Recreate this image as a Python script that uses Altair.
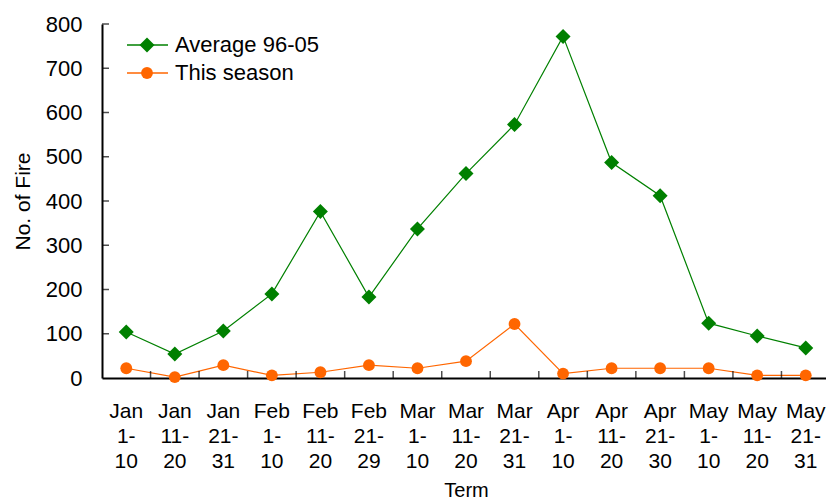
import altair as alt
import pandas as pd

terms = ["Jan|1-|10", "Jan|11-|20", "Jan|21-|31", "Feb|1-|10", "Feb|11-|20",
         "Feb|21-|29", "Mar|1-|10", "Mar|11-|20", "Mar|21-|31", "Apr|1-|10",
         "Apr|11-|20", "Apr|21-|30", "May|1-|10", "May|11-|20", "May|21-|31"]
average = [104, 54, 106, 190, 376, 183, 337, 462, 573, 772, 487, 412, 124, 95, 68]
this_season = [22, 2, 29, 6, 13, 29, 22, 38, 122, 10, 22, 22, 22, 6, 6]
series = ["Average 96-05", "This season"]
colors = ["#008000", "#ff6600"]
shapes = ["diamond", "circle"]
sizes = [225, 140]
y_ticks = [0, 100, 200, 300, 400, 500, 600, 700, 800]

FONT = "Liberation Sans"

rows = []
for s, vals in zip(series, [average, this_season]):
    for t, v in zip(terms, vals):
        rows.append({"term": t, "value": v, "series": s})
df = pd.DataFrame(rows)

xscale = alt.Scale(type="band", domain=terms, paddingInner=0, paddingOuter=0)
yscale = alt.Scale(domain=[0, 800], nice=False)

x_enc = alt.X("term:N", scale=xscale, sort=terms, bandPosition=0.5,
              title="Term",
              axis=alt.Axis(labelExpr="split(datum.label, '|')", labelAngle=0,
                            labelLineHeight=25, labelPadding=22, ticks=False, tickSize=0,
                            labelFont=FONT, labelFontSize=21, labelColor="#000",
                            titleFont=FONT, titleFontSize=20, titleFontWeight="normal",
                            titleColor="#000", titlePadding=9,
                            domainColor="#000", domainWidth=2, labelBaseline="top"))
y_enc = alt.Y("value:Q", scale=yscale, title="No. of Fire",
              axis=alt.Axis(values=y_ticks, grid=False, ticks=False, tickSize=0,
                            domainColor="#000", domainWidth=2,
                            labelFont=FONT, labelFontSize=22, labelColor="#000",
                            labelPadding=20,
                            titleFont=FONT, titleFontSize=21, titleFontWeight="normal",
                            titleColor="#000", titlePadding=12))

color_scale = alt.Scale(domain=series, range=colors)

base = alt.Chart(df)
lines = base.mark_line(strokeWidth=1.2).encode(
    x=x_enc, y=y_enc,
    color=alt.Color("series:N", scale=color_scale, legend=None),
    detail="series:N")
points = base.mark_point(filled=True, opacity=1).encode(
    x=alt.X("term:N", scale=xscale, sort=terms, bandPosition=0.5),
    y=alt.Y("value:Q", scale=yscale),
    color=alt.Color("series:N", scale=color_scale, legend=None),
    shape=alt.Shape("series:N", scale=alt.Scale(domain=series, range=shapes), legend=None),
    size=alt.Size("series:N", scale=alt.Scale(domain=series, range=sizes), legend=None))

# inward x-axis ticks at category boundaries
tick_df = pd.DataFrame({"term": terms[1:]})
xticks = alt.Chart(tick_df).mark_tick(orient="vertical", size=7, yOffset=-3.5,
                                      color="#000", thickness=1.5).encode(
    x=alt.X("term:N", scale=xscale, sort=terms, bandPosition=0),
    y=alt.YDatum(0, scale=yscale))

# inward y-axis ticks
ytick_df = pd.DataFrame({"v": y_ticks[1:]})
yticks = alt.Chart(ytick_df).mark_tick(orient="horizontal", size=7, xOffset=3.5,
                                       color="#000", thickness=1.5).encode(
    x=alt.value(0),
    y=alt.Y("v:Q", scale=yscale))

layers = [lines, points, xticks, yticks]
legend_y = [21, 49]
for s, c, sh, sz, ly in zip(series, colors, shapes, sizes, legend_y):
    ldf = pd.DataFrame({"series": [s]})
    lc = alt.Chart(ldf)
    layers.append(lc.mark_rule(color=c, strokeWidth=1.5).encode(
        x=alt.value(25), x2=alt.value(66), y=alt.value(ly)))
    layers.append(lc.mark_point(filled=True, opacity=1, color=c, shape=sh, size=sz).encode(
        x=alt.value(45), y=alt.value(ly)))
    layers.append(lc.mark_text(align="left", baseline="middle", font=FONT,
                               fontSize=22, color="#000").encode(
        text="series:N", x=alt.value(73), y=alt.value(ly)))

chart = alt.layer(*layers).properties(
    width=728, height=354,
    autosize=alt.AutoSizeParams(type="none"),
    padding={"left": 94, "top": 16, "right": -4, "bottom": 124},
).configure_view(stroke=None)

chart.save("out.html", embed_options={"renderer": "svg", "actions": False})
